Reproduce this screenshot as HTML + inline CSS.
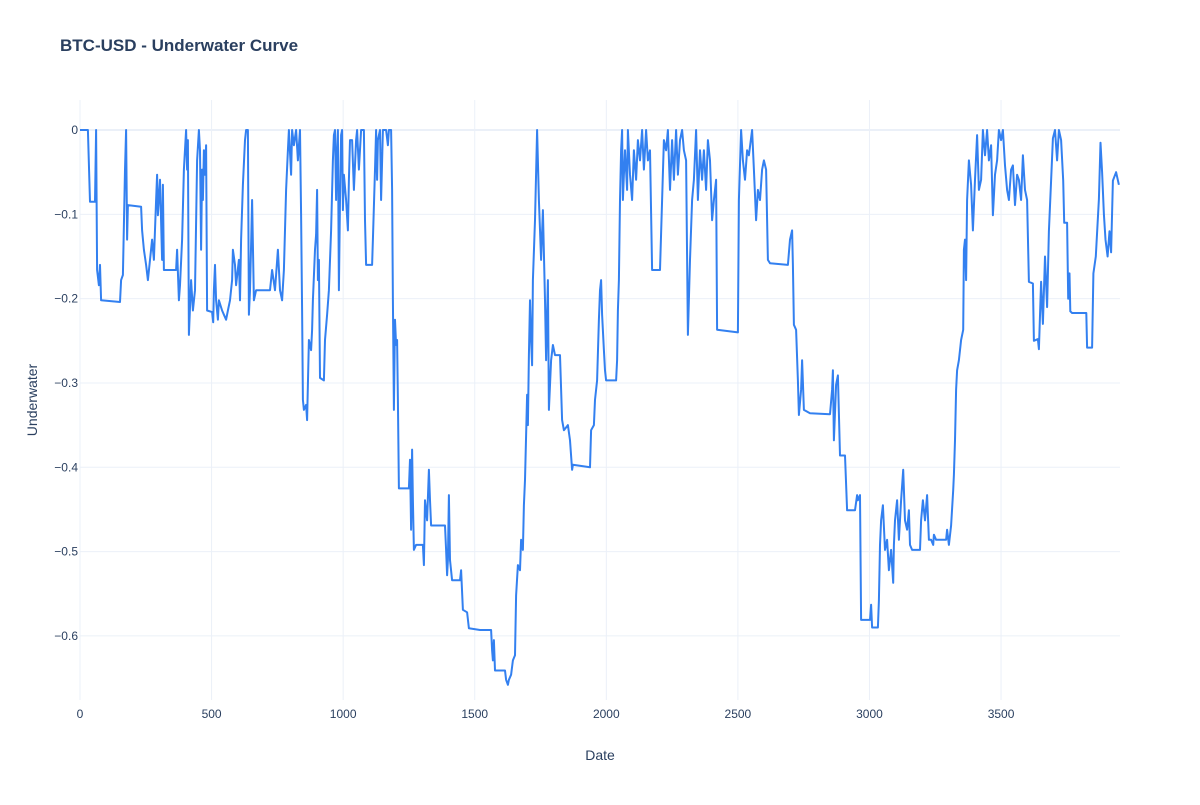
<!DOCTYPE html>
<html><head><meta charset="utf-8"><style>
body{margin:0;background:#fff;font-family:"Liberation Sans",Arial,sans-serif}
svg text{font-family:"Liberation Sans",Arial,sans-serif;fill:#2a3f5f}
</style></head><body>
<svg id="chart" width="1200" height="800" viewBox="0 0 1200 800">
<text x="60" y="51" font-size="17" font-weight="bold">BTC-USD - Underwater Curve</text>
<g id="grid"></g>
<g id="ticks"></g>
<path id="line" fill="none" stroke="#3380f0" stroke-width="2" stroke-linejoin="round"></path>
<text x="600" y="760" font-size="14" text-anchor="middle">Date</text>
<text x="37" y="400" font-size="14" text-anchor="middle" transform="rotate(-90 37 400)">Underwater</text>
</svg>
<script>
const xTicks=[0,500,1000,1500,2000,2500,3000,3500];
const yTicks=[0,-0.1,-0.2,-0.3,-0.4,-0.5,-0.6];
const yTickLabels=["0","−0.1","−0.2","−0.3","−0.4","−0.5","−0.6"];
const dates=[0,30,38,57,61,65,72,76,80,152,156,163,171,175,179,182,232,236,243,251,258,274,281,289,293,296,304,312,315,319,365,369,376,380,388,395,403,407,410,414,422,429,437,445,452,456,460,464,467,471,475,479,483,502,506,509,513,517,524,528,540,547,555,562,570,578,581,589,593,604,608,612,619,627,631,638,642,646,650,654,661,669,676,722,730,741,752,760,768,775,783,790,794,802,806,813,821,828,836,840,844,847,851,859,863,870,878,882,885,893,897,901,904,908,912,927,931,939,946,954,961,965,969,973,976,980,984,988,992,996,999,1003,1011,1018,1022,1026,1034,1041,1049,1053,1060,1068,1079,1083,1087,1110,1113,1121,1125,1129,1132,1140,1144,1151,1163,1170,1174,1182,1186,1189,1193,1197,1201,1205,1208,1212,1250,1254,1258,1262,1265,1269,1277,1303,1307,1311,1319,1326,1330,1334,1338,1387,1391,1395,1398,1402,1406,1414,1444,1448,1455,1471,1478,1520,1562,1566,1569,1573,1577,1615,1619,1626,1630,1638,1645,1653,1657,1664,1672,1676,1683,1687,1691,1699,1702,1706,1710,1714,1718,1721,1729,1737,1744,1752,1759,1767,1771,1778,1782,1790,1797,1805,1824,1832,1839,1854,1862,1870,1873,1938,1942,1953,1957,1965,1972,1976,1980,1984,1991,1995,1999,2037,2041,2044,2048,2052,2056,2060,2063,2067,2071,2079,2082,2090,2098,2105,2113,2120,2128,2136,2143,2151,2158,2166,2174,2204,2212,2219,2227,2234,2242,2250,2257,2265,2272,2280,2288,2295,2303,2310,2318,2326,2333,2341,2348,2356,2364,2371,2379,2386,2394,2402,2409,2417,2421,2500,2504,2512,2519,2527,2535,2542,2554,2561,2569,2576,2584,2592,2599,2607,2614,2622,2690,2698,2706,2709,2713,2721,2728,2732,2740,2744,2751,2774,2850,2858,2861,2865,2873,2880,2888,2907,2915,2945,2953,2956,2964,2968,3002,3006,3010,3032,3036,3040,3044,3051,3059,3067,3074,3082,3090,3093,3097,3105,3112,3120,3128,3135,3143,3150,3154,3162,3192,3196,3203,3211,3219,3226,3234,3242,3245,3253,3291,3295,3302,3310,3318,3321,3325,3329,3333,3340,3348,3356,3359,3363,3367,3371,3378,3386,3393,3401,3409,3416,3424,3431,3439,3447,3454,3462,3469,3477,3485,3492,3500,3507,3515,3523,3530,3538,3545,3553,3561,3568,3576,3583,3591,3599,3606,3621,3625,3640,3644,3652,3659,3667,3675,3682,3690,3697,3705,3713,3720,3728,3736,3740,3751,3755,3760,3763,3770,3824,3827,3846,3851,3860,3872,3878,3884,3891,3897,3905,3912,3918,3925,3937,3948];
const values=[0,0,-.085,-.085,0,-.166,-.184,-.160,-.202,-.204,-.178,-.172,-.047,0,-.130,-.089,-.091,-.119,-.142,-.160,-.178,-.130,-.154,-.083,-.053,-.101,-.059,-.154,-.065,-.166,-.166,-.142,-.202,-.184,-.130,-.047,0,-.047,-.012,-.243,-.178,-.214,-.190,-.036,0,-.024,-.142,-.047,-.083,-.024,-.053,-.018,-.214,-.216,-.228,-.190,-.160,-.202,-.225,-.202,-.214,-.219,-.225,-.214,-.202,-.178,-.142,-.160,-.184,-.154,-.202,-.130,-.065,-.012,0,0,-.219,-.190,-.136,-.083,-.202,-.190,-.190,-.190,-.166,-.190,-.142,-.190,-.202,-.166,-.071,-.024,0,-.053,0,-.018,0,-.036,0,-.101,-.214,-.320,-.332,-.326,-.344,-.249,-.261,-.237,-.202,-.142,-.124,-.071,-.178,-.154,-.294,-.297,-.249,-.219,-.190,-.119,-.036,-.006,0,-.083,-.036,0,-.190,-.083,-.006,0,-.095,-.053,-.083,-.119,-.059,-.012,-.012,-.071,-.012,0,-.047,0,0,-.107,-.160,-.160,-.130,-.047,0,-.059,-.012,0,-.083,0,0,-.018,0,0,-.071,-.202,-.332,-.225,-.255,-.249,-.320,-.425,-.425,-.391,-.474,-.379,-.439,-.498,-.492,-.492,-.516,-.439,-.463,-.403,-.439,-.469,-.469,-.469,-.498,-.528,-.510,-.433,-.510,-.534,-.534,-.522,-.569,-.572,-.591,-.593,-.593,-.617,-.629,-.605,-.641,-.641,-.652,-.658,-.652,-.646,-.629,-.623,-.552,-.516,-.522,-.486,-.498,-.445,-.415,-.314,-.350,-.267,-.202,-.249,-.279,-.178,-.107,0,-.083,-.154,-.095,-.202,-.273,-.178,-.332,-.273,-.255,-.267,-.267,-.344,-.356,-.350,-.368,-.403,-.397,-.400,-.356,-.350,-.320,-.297,-.225,-.190,-.178,-.219,-.261,-.285,-.297,-.297,-.273,-.214,-.178,-.083,-.024,0,-.083,-.053,-.024,-.071,0,-.053,-.083,-.024,-.059,-.012,-.036,0,-.047,0,-.036,-.024,-.166,-.166,-.083,-.012,-.024,0,-.071,-.012,-.059,0,-.053,-.012,0,-.024,-.036,-.243,-.154,-.083,-.059,0,-.083,-.024,-.059,-.024,-.071,-.012,-.036,-.107,-.083,-.059,-.237,-.240,-.083,0,-.036,-.059,-.024,-.030,0,-.047,-.107,-.071,-.083,-.047,-.036,-.047,-.154,-.158,-.160,-.130,-.119,-.160,-.231,-.237,-.297,-.338,-.308,-.273,-.332,-.336,-.337,-.308,-.285,-.368,-.302,-.291,-.386,-.386,-.451,-.451,-.433,-.439,-.433,-.581,-.581,-.563,-.590,-.590,-.558,-.492,-.463,-.445,-.498,-.486,-.522,-.498,-.537,-.492,-.463,-.439,-.486,-.439,-.403,-.463,-.474,-.451,-.492,-.498,-.498,-.463,-.439,-.463,-.433,-.486,-.486,-.492,-.480,-.486,-.486,-.474,-.492,-.469,-.427,-.409,-.368,-.308,-.285,-.273,-.249,-.237,-.142,-.130,-.178,-.083,-.036,-.065,-.119,-.059,-.006,-.071,-.059,0,-.030,0,-.036,-.018,-.101,-.053,-.036,0,-.012,0,-.042,-.071,-.083,-.047,-.042,-.089,-.053,-.059,-.083,-.030,-.071,-.083,-.180,-.182,-.250,-.248,-.260,-.180,-.230,-.150,-.210,-.120,-.060,-.010,0,-.036,0,-.012,-.060,-.110,-.110,-.200,-.170,-.215,-.217,-.217,-.258,-.258,-.170,-.150,-.082,-.015,-.050,-.100,-.130,-.150,-.120,-.145,-.060,-.050,-.065];
const X0=80,X1=1120,XMIN=0,XMAX=3952,Y0=100,Y1=700,YMAX=0.0356,YMIN=-0.676;
function sx(v){return X0+(v-XMIN)/(XMAX-XMIN)*(X1-X0);}
function sy(v){return Y0+(YMAX-v)/(YMAX-YMIN)*(Y1-Y0);}
const NS="http://www.w3.org/2000/svg";
const grid=document.getElementById('grid'),ticks=document.getElementById('ticks');
xTicks.forEach(t=>{
  const l=document.createElementNS(NS,'line');
  
  
  l.setAttribute('x1',sx(t));l.setAttribute('x2',sx(t));l.setAttribute('y1',Y0);l.setAttribute('y2',Y1);
  l.setAttribute('stroke','#ebf0f8');l.setAttribute('stroke-width','1');
  grid.appendChild(l);
  const tx=document.createElementNS(NS,'text');
  
  
  tx.setAttribute('x',sx(t));tx.setAttribute('y',Y1+18);tx.setAttribute('font-size','12');tx.setAttribute('text-anchor','middle');
  tx.textContent=String(t);ticks.appendChild(tx);
});
yTicks.forEach((t,i)=>{
  const l=document.createElementNS(NS,'line');
  
  
  l.setAttribute('x1',X0);l.setAttribute('x2',X1);l.setAttribute('y1',sy(t));l.setAttribute('y2',sy(t));
  l.setAttribute('stroke','#ebf0f8');l.setAttribute('stroke-width',t===0?'2':'1');
  grid.appendChild(l);
  const tx=document.createElementNS(NS,'text');
  
  
  tx.setAttribute('x',X0-2);tx.setAttribute('y',sy(t)+4);tx.setAttribute('font-size','12');tx.setAttribute('text-anchor','end');
  tx.textContent=yTickLabels[i];ticks.appendChild(tx);
});
let d='';
dates.forEach((x,i)=>{d+=(i?'L':'M')+sx(x).toFixed(1)+','+sy(values[i]).toFixed(1);});
document.getElementById('line').setAttribute('d',d);
</script>
</body></html>
